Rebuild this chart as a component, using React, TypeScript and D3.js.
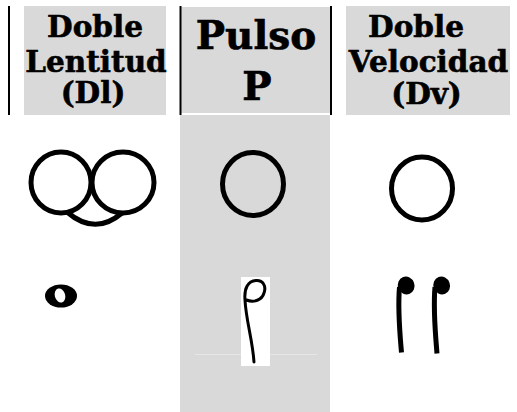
import React from "react";
import * as d3 from "d3";

// ---- data ----
const columns = ["Dl", "P", "Dv"];
const headerLines: string[][] = [
  ["Doble", "Lentitud", "(Dl)"],
  ["Pulso", "P"],
  ["Doble", "Velocidad", "(Dv)"],
];
const circleCounts = [2, 1, 1]; // pulses drawn as circles per column
const noteKinds = ["redonda", "blanca", "negra"]; // musical figure per column
const noteCounts = [1, 1, 2];

// ---- layout ----
const W = 517;
const H = 412;
const GRAY = "#d9d9d9";
const FONT = "'DejaVu Serif', serif";

// header cell bounds
const headerX = d3.scaleOrdinal<string, [number, number]>().domain(columns).range([
  [24, 166],
  [180, 331],
  [346, 510],
]);
const circleCenter = d3.scaleOrdinal<string, number>().domain(columns).range([92, 253, 422]);

const headerStyle = [
  { size: 29.5, lines: [{ x: 95, y: 36.5 }, { x: 96, y: 71.5 }, { x: 93, y: 103 }] },
  { size: 39, lines: [{ x: 256, y: 49 }, { x: 257, y: 100 }] },
  { size: 29.5, lines: [{ x: 416, y: 36.5 }, { x: 428.5, y: 71.5 }, { x: 426.5, y: 103.5 }] },
];

function Circles({ col, count }: { col: string; count: number }) {
  const cx = circleCenter(col);
  if (count === 2) {
    const p = d3.path();
    p.moveTo(cx - 25, 212);
    p.quadraticCurveTo(cx + 3, 236, cx + 30, 213);
    return (
      <g fill="none" stroke="#000" strokeWidth={5}>
        <ellipse cx={cx - 31} cy={182.5} rx={30} ry={30.5} />
        <ellipse cx={cx + 31} cy={182.5} rx={31} ry={30.5} />
        <path d={p.toString()} />
      </g>
    );
  }
  const cy = col === "P" ? 184 : 188.5;
  return (
    <ellipse cx={cx} cy={cy} rx={30.5} ry={31.5} fill="none" stroke="#000" strokeWidth={5} />
  );
}

function Note({ kind, count }: { kind: string; count: number }) {
  if (kind === "redonda") {
    return (
      <g>
        <ellipse cx={61} cy={296} rx={16} ry={11.5} fill="#000" />
        <ellipse cx={60} cy={295.5} rx={5.2} ry={7.2} fill="#fff" transform="rotate(-15 60 295.5)" />
      </g>
    );
  }
  if (kind === "blanca") {
    const p = d3.path();
    p.moveTo(254, 362);
    p.bezierCurveTo(252.5, 340, 246, 320, 245, 300);
    p.bezierCurveTo(244, 288, 248, 281, 256, 280.5);
    p.bezierCurveTo(263, 280, 266.5, 286, 264, 293);
    p.bezierCurveTo(262, 300, 254, 303, 246.5, 300);
    return (
      <g>
        <line x1={195} x2={317} y1={354.5} y2={354.5} stroke="#e6e6e6" strokeWidth={1} />
        <rect x={241} y={277} width={29} height={89} fill="#fff" />
        <path d={p.toString()} fill="none" stroke="#000" strokeWidth={3} strokeLinecap="round" />
      </g>
    );
  }
  const xs = d3.range(count).map((i) => 398 + i * 35.5);
  return (
    <g>
      {xs.map((x, i) => {
        const s = d3.path();
        s.moveTo(x + 1.5, 287);
        s.bezierCurveTo(x - 0.5, 310, x + 2, 335, x + 3.5, 352.5 + i);
        return (
          <g key={i}>
            <ellipse cx={x + 8.2} cy={285.5} rx={8.3} ry={9} fill="#000" transform={`rotate(-20 ${x + 8.2} 285.5)`} />
            <path d={s.toString()} fill="none" stroke="#000" strokeWidth={5} />
          </g>
        );
      })}
    </g>
  );
}

export default function App() {
  return (
    <svg
      width={W}
      height={H}
      viewBox={`0 0 ${W} ${H}`}
      style={{ position: "absolute", left: 0, top: 0, background: "#fff" }}
    >
      {/* middle column background */}
      <rect x={180} y={115} width={150} height={H - 115} fill={GRAY} />
      {/* header cells */}
      {columns.map((c) => {
        const [x0, x1] = headerX(c);
        const y0 = c === "P" ? 7 : 6;
        const y1 = c === "P" ? 113 : 115;
        return <rect key={c} x={x0} y={y0} width={x1 - x0} height={y1 - y0} fill={GRAY} />;
      })}
      {/* vertical rules */}
      {[9, 180.5, 331].map((x) => (
        <line key={x} x1={x} x2={x} y1={6} y2={115} stroke="#000" strokeWidth={2} />
      ))}
      {/* header text: one text block per column */}
      {headerLines.map((lines, ci) => (
        <text
          key={ci}
          fontFamily={FONT}
          fontWeight="bold"
          fontSize={headerStyle[ci].size}
          textAnchor="middle"
          fill="#000"
          stroke="#000"
          strokeWidth={0.6}
        >
          {lines.map((t, li) => (
            <tspan key={li} x={headerStyle[ci].lines[li].x} y={headerStyle[ci].lines[li].y}>
              {t}
            </tspan>
          ))}
        </text>
      ))}
      {/* circles */}
      {columns.map((c, i) => (
        <Circles key={c} col={c} count={circleCounts[i]} />
      ))}
      {/* notes */}
      {noteKinds.map((k, i) => (
        <Note key={k} kind={k} count={noteCounts[i]} />
      ))}
    </svg>
  );
}
